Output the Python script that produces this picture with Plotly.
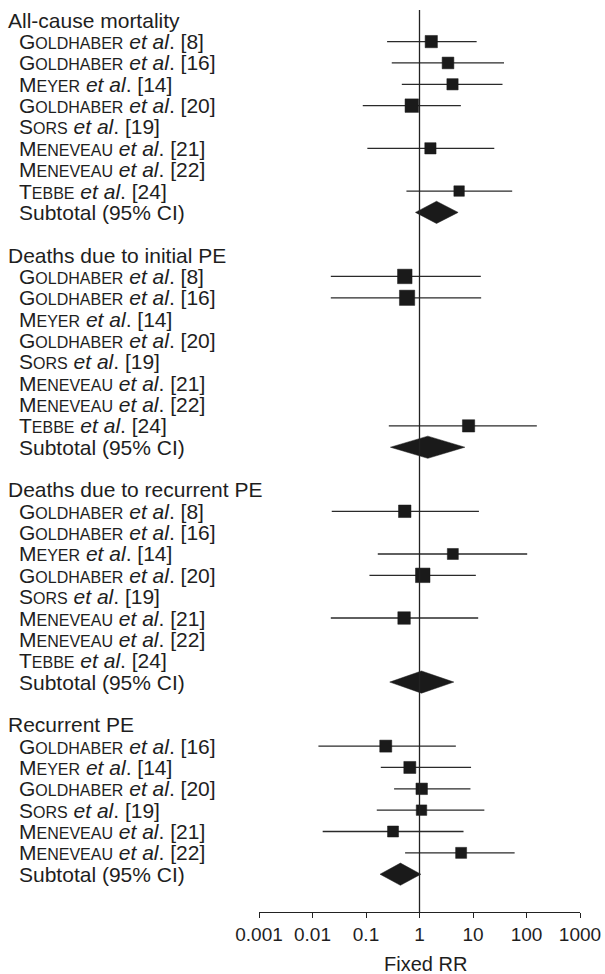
import plotly.graph_objects as go

# ---------------- data ----------------
group_titles = ["All-cause mortality", "Deaths due to initial PE",
                "Deaths due to recurrent PE", "Recurrent PE"]

# Group 1: all-cause mortality
acm_authors = ["Goldhaber", "Goldhaber", "Meyer", "Goldhaber", "Sors", "Meneveau", "Meneveau", "Tebbe"]
acm_refs = [8, 16, 14, 20, 19, 21, 22, 24]
acm_rr = [1.66, 3.41, 4.14, 0.718, None, 1.60, None, 5.5]
acm_lo = [0.248, 0.303, 0.467, 0.087, None, 0.106, None, 0.57]
acm_hi = [11.7, 38, 35.6, 5.93, None, 25, None, 54]
acm_w = [12.3, 11.2, 10.4, 14.9, None, 10.4, None, 9.0]
acm_total = [2.08, 0.84, 5.27]

# Group 2: deaths due to initial PE
dip_authors = ["Goldhaber", "Goldhaber", "Meyer", "Goldhaber", "Sors", "Meneveau", "Meneveau", "Tebbe"]
dip_refs = [8, 16, 14, 20, 19, 21, 22, 24]
dip_rr = [0.531, 0.586, None, None, None, None, None, 8.26]
dip_lo = [0.022, 0.022, None, None, None, None, None, 0.267]
dip_hi = [14.0, 14.2, None, None, None, None, None, 156]
dip_w = [17.2, 19.0, None, None, None, None, None, 12.3]
dip_total = [1.43, 0.286, 7.04]

# Group 3: deaths due to recurrent PE
drp_authors = ["Goldhaber", "Goldhaber", "Meyer", "Goldhaber", "Sors", "Meneveau", "Meneveau", "Tebbe"]
drp_refs = [8, 16, 14, 20, 19, 21, 22, 24]
drp_rr = [0.53, None, 4.2, 1.15, None, 0.515, None, None]
drp_lo = [0.0229, None, 0.166, 0.116, None, 0.022, None, None]
drp_hi = [12.9, None, 103, 11.3, None, 12.5, None, None]
drp_w = [12.8, None, 9.9, 17.2, None, 12.8, None, None]
drp_total = [1.09, 0.278, 4.38]

# Group 4: recurrent PE
rpe_authors = ["Goldhaber", "Meyer", "Goldhaber", "Sors", "Meneveau", "Meneveau"]
rpe_refs = [16, 14, 20, 19, 21, 22]
rpe_rr = [0.234, 0.659, 1.10, 1.09, 0.32, 6.0]
rpe_lo = [0.0129, 0.189, 0.335, 0.159, 0.0155, 0.538]
rpe_hi = [4.78, 9.2, 8.96, 16.3, 6.65, 60]
rpe_w = [11.8, 11.8, 10.8, 9.0, 9.9, 9.9]
rpe_total = [0.44, 0.183, 1.06]

tick_vals = [0.001, 0.01, 0.1, 1, 10, 100, 1000]
tick_text = ["0.001", "0.01", "0.1", "1", "10", "100", "1000"]
x_title = "Fixed RR"
subtotal_label = "Subtotal (95% CI)"

groups = [
    (acm_authors, acm_refs, acm_rr, acm_lo, acm_hi, acm_w, acm_total),
    (dip_authors, dip_refs, dip_rr, dip_lo, dip_hi, dip_w, dip_total),
    (drp_authors, drp_refs, drp_rr, drp_lo, drp_hi, drp_w, drp_total),
    (rpe_authors, rpe_refs, rpe_rr, rpe_lo, rpe_hi, rpe_w, rpe_total),
]

# ---------------- styling ----------------
FONT = "Liberation Sans, Arial, Helvetica, sans-serif"
TXT = "#1e1e1e"
LABEL_SIZE = 21
SC_SIZE = 16
INK = "#1a1a1a"

def small_caps(name):
    return name[0].upper() + f'<span style="font-size:{SC_SIZE}px">{name[1:].upper()}</span>'

def study_label(author, ref):
    return f"{small_caps(author)} <i>et al</i>. [{ref}]"

W, H = 605, 974
PLOT_L, PLOT_R = 259, 580   # pixel extents of the plotting area
PLOT_T, PLOT_B = 10, 912
PLOT_W = PLOT_R - PLOT_L

# ---------------- build rows ----------------
row = 0
annotations = []
ci_x, ci_y = [], []
pt_x, pt_y, pt_s = [], [], []
diamonds = []

X_HEAD = (6 - PLOT_L) / PLOT_W
X_STUDY = (17 - PLOT_L) / PLOT_W

for gi, (authors, refs, rr, lo, hi, w, tot) in enumerate(groups):
    annotations.append(dict(x=X_HEAD, y=row, xref="paper", yref="y", text=group_titles[gi],
                            showarrow=False, xanchor="left", yanchor="middle",
                            font=dict(family=FONT, size=LABEL_SIZE, color=TXT)))
    row += 1
    for a, r, v, l, h, ww in zip(authors, refs, rr, lo, hi, w):
        annotations.append(dict(x=X_STUDY, y=row, xref="paper", yref="y", text=study_label(a, r),
                                showarrow=False, xanchor="left", yanchor="middle",
                                font=dict(family=FONT, size=LABEL_SIZE, color=TXT)))
        if v is not None:
            ci_x += [l, h, None]
            ci_y += [row, row, None]
            pt_x.append(v)
            pt_y.append(row)
            pt_s.append(3.5 * ww ** 0.5)
        row += 1
    annotations.append(dict(x=X_STUDY, y=row, xref="paper", yref="y", text=subtotal_label,
                            showarrow=False, xanchor="left", yanchor="middle",
                            font=dict(family=FONT, size=LABEL_SIZE, color=TXT)))
    diamonds.append((tot, row))
    row += 2

fig = go.Figure()

fig.add_trace(go.Scatter(x=ci_x, y=ci_y, mode="lines",
                         line=dict(color="#2a2a2a", width=1.3),
                         hoverinfo="skip", showlegend=False))
fig.add_trace(go.Scatter(x=pt_x, y=pt_y, mode="markers",
                         marker=dict(symbol="square", size=pt_s, color=INK, opacity=1,
                                     line=dict(width=0.5, color=INK)),
                         opacity=1, hoverinfo="skip", showlegend=False))

HALF_H = 0.52
for (est, l, h), r in diamonds:
    fig.add_trace(go.Scatter(x=[l, est, h, est, l], y=[r, r - HALF_H, r, r + HALF_H, r],
                             mode="lines", fill="toself", fillcolor=INK,
                             line=dict(color=INK, width=0.5),
                             hoverinfo="skip", showlegend=False))

fig.add_shape(type="line", xref="x", yref="paper", x0=1, x1=1, y0=0, y1=1,
              line=dict(color="#222222", width=1.3))

annotations.append(dict(x=(425 - PLOT_L) / PLOT_W, y=-0.058, xref="paper", yref="paper", text=x_title,
                        showarrow=False, xanchor="center", yanchor="middle",
                        font=dict(family=FONT, size=20, color=TXT)))

fig.update_layout(
    width=W, height=H, autosize=False,
    margin=dict(l=PLOT_L, r=W - PLOT_R, t=PLOT_T, b=H - PLOT_B, autoexpand=False),
    paper_bgcolor="white", plot_bgcolor="white",
    annotations=annotations,
    showlegend=False,
    hovermode=False,
    xaxis=dict(type="log", range=[-3, 3], tickvals=tick_vals, ticktext=tick_text,
               automargin=False,
               showgrid=False, zeroline=False, showline=True, linecolor="#222222",
               linewidth=1.3, ticks="outside", ticklen=5, tickwidth=1.3, tickcolor="#222222",
               tickfont=dict(family=FONT, size=19, color=TXT), fixedrange=True),
    yaxis=dict(range=[41.77, -0.48], visible=False, showgrid=False, zeroline=False,
               automargin=False, fixedrange=True),
)

fig.write_html(
    "out.html",
    config={"displayModeBar": False, "responsive": False},
    post_script="document.body.style.margin='0';"
                "document.documentElement.style.overflow='hidden';"
                "document.body.style.overflow='hidden';",
)
